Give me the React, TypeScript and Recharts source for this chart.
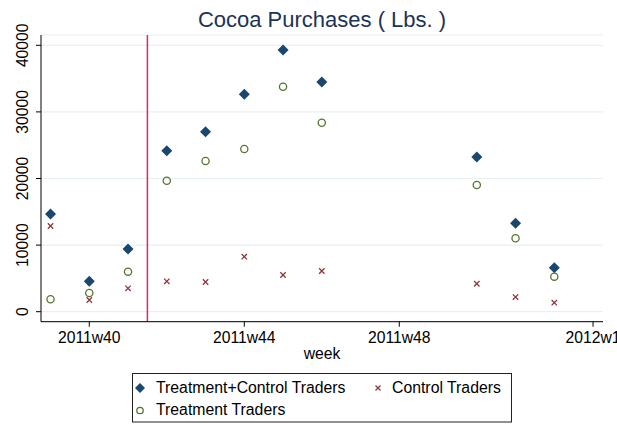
import React from 'react';
import { ScatterChart, Scatter, XAxis, YAxis, CartesianGrid, ReferenceLine } from 'recharts';

const weeks = [39, 40, 41, 42, 43, 44, 45, 46, 50, 51, 52];
const totalTraders = [14670, 4560, 9410, 24170, 27030, 32640, 39290, 34490, 23230, 13270, 6610];
const controlTraders = [12870, 1760, 3510, 4560, 4460, 8260, 5510, 6110, 4200, 2200, 1350];
const treatmentTraders = [1860, 2810, 6010, 19670, 22630, 24430, 33780, 28380, 19020, 11020, 5260];
const xTicks = [40, 44, 48, 53];
const xTickLabels = ['2011w40', '2011w44', '2011w48', '2012w1'];
const yTicks = [0, 10000, 20000, 30000, 40000];
const treatmentStartWeek = 41.5;

const FONT = '"Liberation Sans", Arial, Helvetica, sans-serif';
const NAVY = '#1a476f';
const MAROON = '#90353b';
const GREEN = '#55752f';

const toPoints = (vals: number[]) => weeks.map((w, i) => ({ x: w, y: vals[i] }));
const totalData = toPoints(totalTraders);
const controlData = toPoints(controlTraders);
const treatmentData = toPoints(treatmentTraders);

const Diamond = (p: any) => {
  const { cx, cy } = p;
  const s = 5.5;
  return <path d={`M${cx},${cy - s}L${cx + s},${cy}L${cx},${cy + s}L${cx - s},${cy}Z`} fill={NAVY} />;
};
const Circle = (p: any) => {
  const { cx, cy } = p;
  return <circle cx={cx} cy={cy} r={3.6} fill="none" stroke={GREEN} strokeWidth={1.3} />;
};
const XMark = (p: any) => {
  const { cx, cy } = p;
  const s = 2.7;
  return (
    <path d={`M${cx - s},${cy - s}L${cx + s},${cy + s}M${cx - s},${cy + s}L${cx + s},${cy - s}`} stroke={MAROON} strokeWidth={1.3} fill="none" />
  );
};

const XTick = (p: any) => {
  const idx = xTicks.indexOf(p.payload.value);
  return (
    <text x={p.x} y={342.7} textAnchor="middle" fontSize={15.7} fontFamily={FONT} fill="#000">
      {idx >= 0 ? xTickLabels[idx] : p.payload.value}
    </text>
  );
};
const YTick = (p: any) => {
  const x = 28.5;
  return (
    <text x={x} y={p.y} transform={`rotate(-90, ${x}, ${p.y})`} textAnchor="middle" fontSize={15.7} fontFamily={FONT} fill="#000">
      {p.payload.value}
    </text>
  );
};

export default function App() {
  return (
    <div style={{ position: 'absolute', left: 0, top: 0, width: 617, height: 424, background: '#fff', fontFamily: FONT }}>
      <ScatterChart width={617} height={424} margin={{ top: 35, right: 14, left: 0, bottom: 72.3 }}>
        <CartesianGrid horizontal vertical={false} stroke="#e8f0f1" strokeWidth={1.2} />
        <XAxis
          type="number"
          dataKey="x"
          domain={[38.754, 53.257]}
          ticks={xTicks}
          allowDataOverflow
          height={30}
          tick={<XTick />}
          tickSize={5}
          tickLine={{ stroke: '#000' }}
          axisLine={{ stroke: '#000' }}
          interval={0}
        />
        <YAxis
          type="number"
          dataKey="y"
          domain={[-1502, 41547]}
          ticks={yTicks}
          allowDataOverflow
          width={41}
          tick={<YTick />}
          tickSize={5}
          tickLine={{ stroke: '#000' }}
          axisLine={{ stroke: '#000' }}
          interval={0}
        />
        <ReferenceLine x={treatmentStartWeek} stroke="#d0305c" strokeWidth={1.5} />
        <Scatter name="Treatment+Control Traders" data={totalData} shape={Diamond} isAnimationActive={false} />
        <Scatter name="Control Traders" data={controlData} shape={XMark} isAnimationActive={false} />
        <Scatter name="Treatment Traders" data={treatmentData} shape={Circle} isAnimationActive={false} />
      </ScatterChart>
      <svg width={617} height={424} style={{ position: 'absolute', left: 0, top: 0, pointerEvents: 'none' }}>
        <text x={322} y={26.7} textAnchor="middle" fontSize={22} fontFamily={FONT} fill="#1c3357">
          Cocoa Purchases ( Lbs. )
        </text>
        <text x={322} y={359} textAnchor="middle" fontSize={15.7} fontFamily={FONT} fill="#000">
          week
        </text>
        <rect x={132.5} y={373.5} width={379} height={48.5} fill="none" stroke="#222" strokeWidth={1} />
        <path d="M140,383L145,388L140,393L135,388Z" fill={NAVY} />
        <text x={156} y={393} fontSize={15.8} fontFamily={FONT} fill="#000">Treatment+Control Traders</text>
        <path d="M375.5,385.5L380.5,390.5M375.5,390.5L380.5,385.5" stroke={MAROON} strokeWidth={1.3} />
        <text x={392} y={393} fontSize={15.8} fontFamily={FONT} fill="#000">Control Traders</text>
        <circle cx={140} cy={410.5} r={3.2} fill="none" stroke={GREEN} strokeWidth={1.3} />
        <text x={156} y={415} fontSize={15.8} fontFamily={FONT} fill="#000">Treatment Traders</text>
      </svg>
    </div>
  );
}
